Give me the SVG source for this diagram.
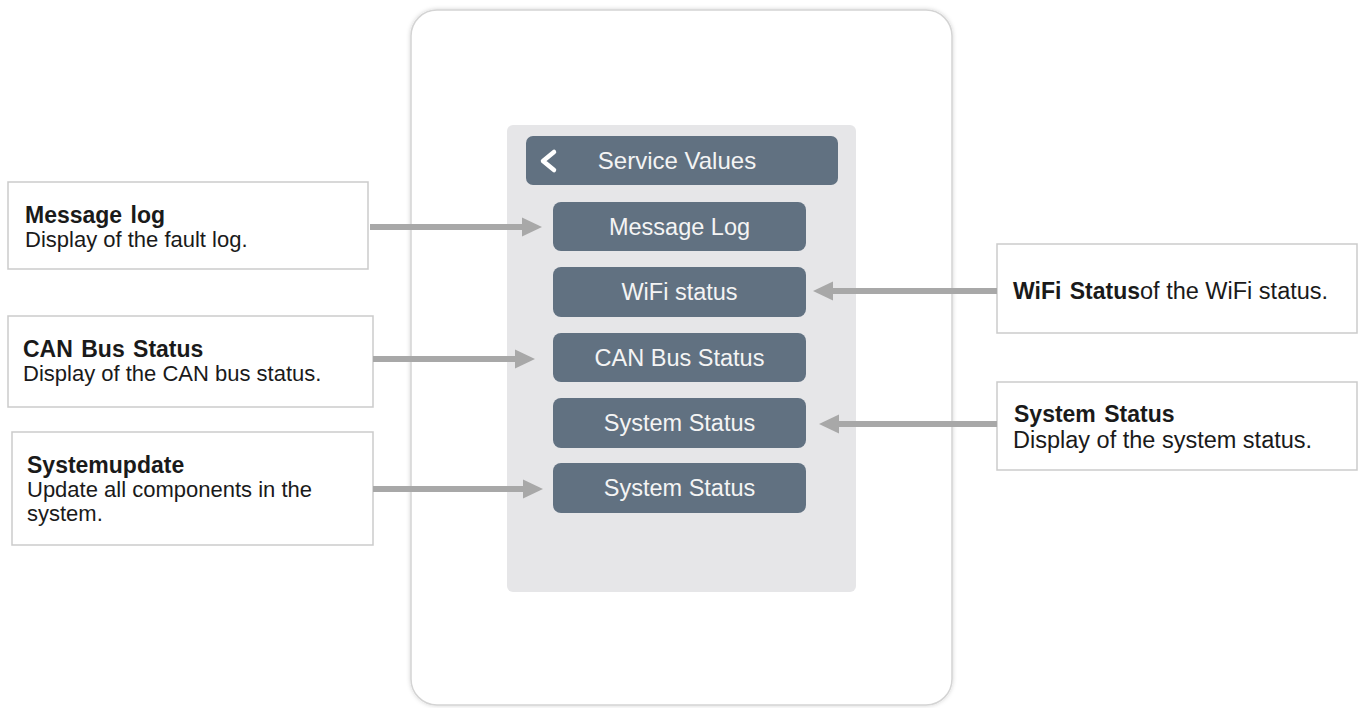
<svg xmlns="http://www.w3.org/2000/svg" width="1365" height="708" viewBox="0 0 1365 708">
<style>
.lbl{font-family:"Liberation Sans",Arial,sans-serif;font-size:22px;fill:#1a1a1a}
.r{font-size:23.5px}
.b{font-weight:bold;font-size:23px;word-spacing:2px}
.box{fill:#fff;stroke:#cbcbcb;stroke-width:1.5}
.btn{fill:#617181}
.btxt{font-family:"Liberation Sans",Arial,sans-serif;font-size:23.5px;fill:#f4f4f4;text-anchor:middle}
.arr{stroke:#a8a8a8;stroke-width:6;fill:none}
.head{fill:#a8a8a8}
</style>
<defs>
<filter id="sh" x="-5%" y="-5%" width="110%" height="110%">
<feDropShadow dx="0" dy="0" stdDeviation="2" flood-color="#000" flood-opacity="0.18"/>
</filter>
</defs>
<rect width="1365" height="708" fill="#fff"/>
<g id="device">
<rect x="411" y="10" width="541" height="695" rx="26" fill="#fff" stroke="#d4d4d4" stroke-width="1.5" filter="url(#sh)"/>
<rect x="507" y="125" width="349" height="467" rx="6" fill="#e6e6e8"/>
</g>
<g id="header">
<rect class="btn" x="526" y="136" width="312" height="49" rx="7"/>
<polyline points="554,152 543,161 554,170" fill="none" stroke="#fff" stroke-width="4.5" stroke-linecap="round" stroke-linejoin="round"/>
<text class="btxt" x="677" y="169" style="font-size:24px">Service Values</text>
</g>
<g id="btn-message-log">
<rect class="btn" x="553" y="202" width="253" height="49" rx="8"/>
<text class="btxt" x="679.5" y="235">Message Log</text>
</g>
<g id="btn-wifi">
<rect class="btn" x="553" y="267" width="253" height="50" rx="8"/>
<text class="btxt" x="679.5" y="300">WiFi status</text>
</g>
<g id="btn-can">
<rect class="btn" x="553" y="333" width="253" height="49" rx="8"/>
<text class="btxt" x="679.5" y="366">CAN Bus Status</text>
</g>
<g id="btn-system1">
<rect class="btn" x="553" y="398" width="253" height="50" rx="8"/>
<text class="btxt" x="679.5" y="431">System Status</text>
</g>
<g id="btn-system2">
<rect class="btn" x="553" y="463" width="253" height="50" rx="8"/>
<text class="btxt" x="679.5" y="496">System Status</text>
</g>
<g id="note-message-log">
<rect class="box" x="8" y="182" width="360" height="87"/>
<text class="lbl b" x="25" y="223">Message log</text>
<text class="lbl" x="25" y="247">Display of the fault log.</text>
</g>
<g id="note-can">
<rect class="box" x="8" y="316" width="365" height="91"/>
<text class="lbl b" x="23" y="357">CAN Bus Status</text>
<text class="lbl" x="23" y="381">Display of the CAN bus status.</text>
</g>
<g id="note-systemupdate">
<rect class="box" x="12" y="432" width="361" height="113"/>
<text class="lbl b" x="27" y="473">Systemupdate</text>
<text class="lbl" x="27" y="497">Update all components in the</text>
<text class="lbl" x="27" y="521">system.</text>
</g>
<g id="note-wifi">
<rect class="box" x="997" y="244" width="360" height="89"/>
<text class="lbl r" x="1013" y="299"><tspan class="b">WiFi Status</tspan>of the WiFi status.</text>
</g>
<g id="note-system">
<rect class="box" x="997" y="382" width="360" height="88"/>
<text class="lbl b" x="1014" y="422">System Status</text>
<text class="lbl r" x="1013" y="448">Display of the system status.</text>
</g>
<g id="connectors">
<line class="arr" x1="370" y1="227" x2="524" y2="227"/>
<polygon class="head" points="542,227 522,217.5 522,236.5"/>
<line class="arr" x1="373" y1="359" x2="517" y2="359"/>
<polygon class="head" points="535,359 515,349.5 515,368.5"/>
<line class="arr" x1="373" y1="489" x2="525" y2="489"/>
<polygon class="head" points="543,489 523,479.5 523,498.5"/>
<line class="arr" x1="997" y1="291" x2="831" y2="291"/>
<polygon class="head" points="813,291 833,281.5 833,300.5"/>
<line class="arr" x1="997" y1="424" x2="837" y2="424"/>
<polygon class="head" points="819,424 839,414.5 839,433.5"/>
</g>
</svg>
